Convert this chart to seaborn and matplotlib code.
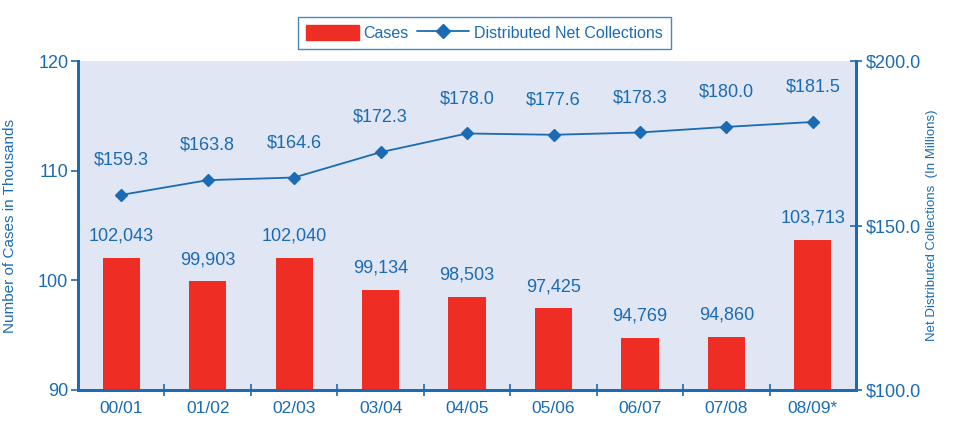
import matplotlib
matplotlib.use('Agg')
import matplotlib.pyplot as plt
import seaborn as sns
import pandas as pd
from matplotlib.ticker import FixedLocator
from matplotlib.patches import Patch
from matplotlib.lines import Line2D

years = ["00/01", "01/02", "02/03", "03/04", "04/05", "05/06", "06/07", "07/08", "08/09*"]
cases = [102043, 99903, 102040, 99134, 98503, 97425, 94769, 94860, 103713]
collections = [159.3, 163.8, 164.6, 172.3, 178.0, 177.6, 178.3, 180.0, 181.5]

BLUE = '#1a6bb3'
RED = '#ee2e24'
BG = '#e1e6f4'

sns.set_theme(style='white')
plt.rcParams['font.family'] = ['Liberation Sans', 'DejaVu Sans']

df = pd.DataFrame({'year': years, 'cases': [c / 1000 for c in cases], 'coll': collections})

fig = plt.figure(figsize=(9.63, 4.4), dpi=100)
ax = fig.add_axes([0.081, 0.114, 0.808, 0.747])
ax.set_facecolor(BG)

sns.barplot(data=df, x='year', y='cases', color=RED, width=0.43, saturation=1,
            linewidth=0, ax=ax, zorder=2)
ax.set_ylim(90, 120)
ax.set_xlim(-0.5, len(years) - 0.5)
ax.set_yticks([90, 100, 110, 120])
ax.tick_params(axis='y', colors=BLUE, labelsize=13, length=5, width=1.2, direction='out', left=True, pad=2)
ax.tick_params(axis='x', which='major', length=0, colors=BLUE, labelsize=12.5, pad=8)
ax.xaxis.set_minor_locator(FixedLocator([i + 0.5 for i in range(len(years) - 1)]))
ax.tick_params(axis='x', which='minor', length=8, width=1.2, direction='inout', color=BLUE, bottom=True)
ax.set_xlabel('')
ax.set_ylabel('Number of Cases in Thousands', color=BLUE, fontsize=11)
ax.yaxis.set_label_coords(-0.078, 0.5)

for i, c in enumerate(cases):
    ax.text(i, c / 1000 + 1.2, f'{c:,}', ha='center', va='bottom', color=BLUE, fontsize=13)

ax2 = ax.twinx()
sns.pointplot(data=df, x='year', y='coll', color=BLUE, markers='D', markersize=6,
              linewidth=1.3, ax=ax2)
ax2.set_ylim(100, 200)
ax2.set_xlim(-0.5, len(years) - 0.5)
ax2.set_yticks([100, 150, 200])
ax2.set_yticklabels(['$100.0', '$150.0', '$200.0'])
ax2.tick_params(axis='y', colors=BLUE, labelsize=13, length=8, width=1.2, direction='inout', right=True, pad=3)
ax2.set_ylabel('Net Distributed Collections  (In Millions)', color=BLUE, fontsize=9.5)
ax2.yaxis.set_label_coords(1.09, 0.5)
ax2.set_xlabel('')

for i, v in enumerate(collections):
    ax2.text(i, v + 8, f'${v:.1f}', ha='center', va='bottom', color=BLUE, fontsize=13)

for a in (ax, ax2):
    for side in ('left', 'bottom', 'right'):
        a.spines[side].set_color(BLUE)
        a.spines[side].set_linewidth(2)
    a.spines['top'].set_visible(False)

handles = [Patch(facecolor=RED, edgecolor=RED),
           Line2D([], [], color=BLUE, marker='D', markersize=7, linewidth=1.3)]
leg = fig.legend(handles, ['Cases', 'Distributed Net Collections'], loc='upper center',
                 bbox_to_anchor=(0.503, 0.98), ncol=2, frameon=True, fancybox=False,
                 fontsize=11.5, handlelength=3.3, handleheight=1.1, columnspacing=0.5,
                 handletextpad=0.3, borderpad=0.5)
leg.get_frame().set_edgecolor(BLUE)
leg.get_frame().set_linewidth(1.0)
for t in leg.get_texts():
    t.set_color(BLUE)

fig.savefig('out.png', dpi=100)
